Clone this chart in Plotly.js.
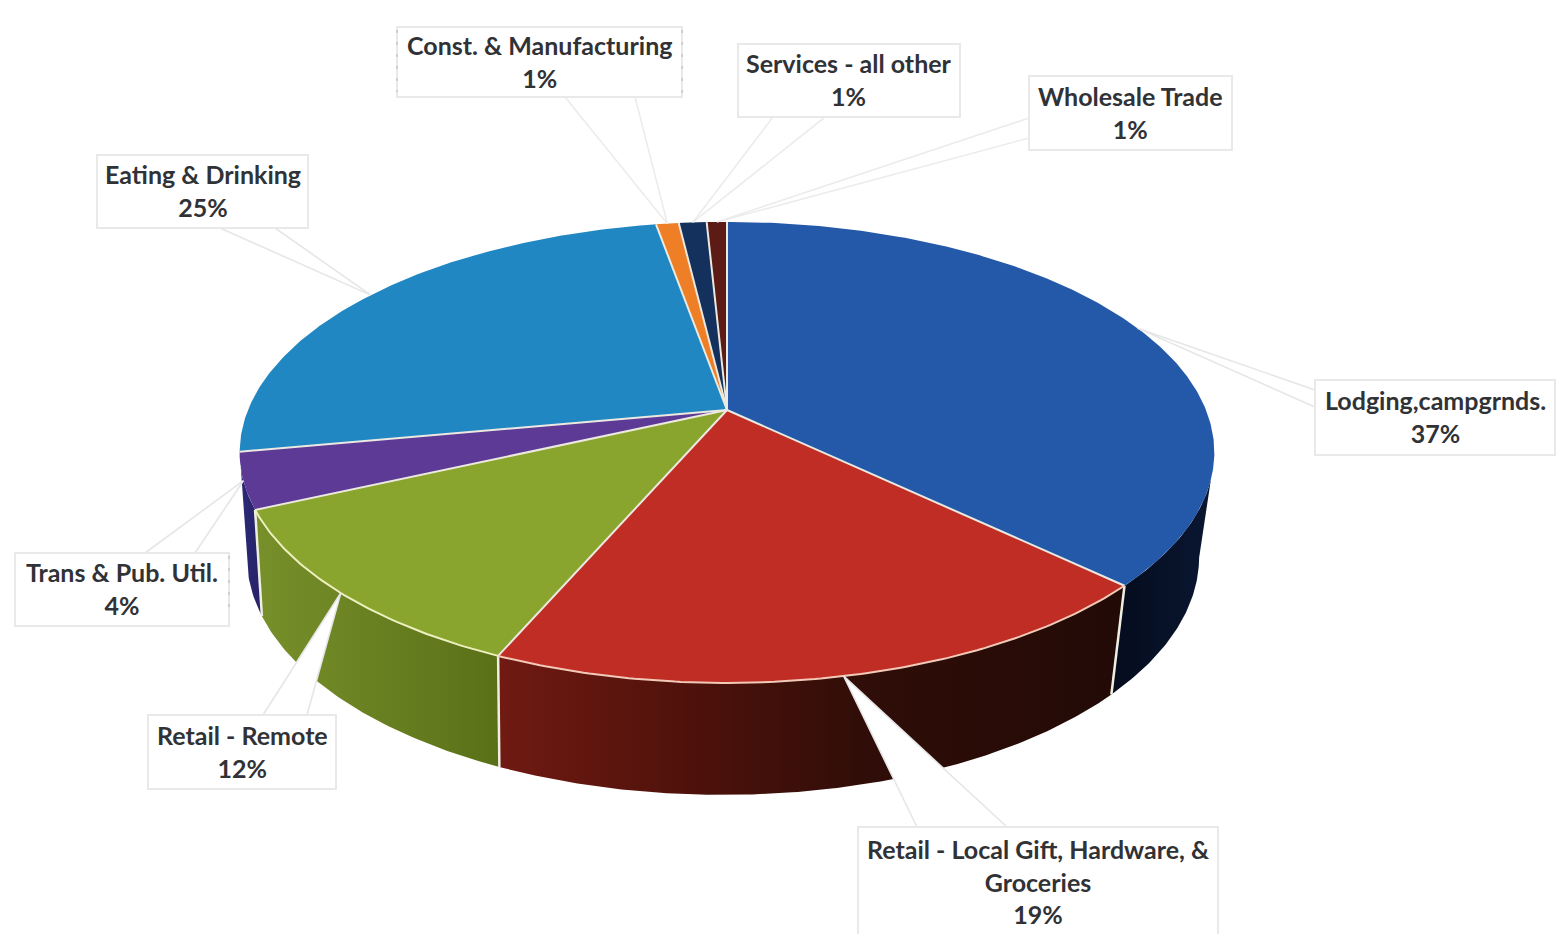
<!DOCTYPE html>
<html>
<head>
<meta charset="utf-8">
<script src="https://cdn.plot.ly/plotly-3.0.1.min.js"></script>
<style>html,body{margin:0;padding:0;background:#fff}#chart{width:1558px;height:934px}</style>
</head>
<body>
<div id="chart"></div>
<script>
// ---- data (percent of total, clockwise from 12 o'clock)
const categories = ["Lodging,campgrnds.", "Retail - Local Gift, Hardware, &<br>Groceries", "Retail - Remote",
  "Trans & Pub. Util.", "Eating & Drinking", "Const. & Manufacturing", "Services - all other", "Wholesale Trade"];
const shares = [37.1, 19.4, 11.7, 3.9, 25.1, 0.9, 1.1, 0.8];
const topColors = ["#2459a9", "#c02d25", "#8aa52e", "#5d3a96", "#2087c3", "#ee7f27", "#14305c", "#5c1b14"];
const wallScales = [
  [[0,"#040b1c"],[1,"#0a1732"]],
  [[0,"#701a12"],[0.3,"#4f120b"],[0.6,"#2f0d08"],[1,"#220a06"]],
  [[0,"#77902a"],[1,"#5a7018"]],
  [[0,"#2c2a78"],[1,"#252266"]],
  null, null, null, null];

// ---- label boxes [x0,y0,x1,y1] and the two foot points of each callout
const boxes = [[1315,380,1555,455],[858,827,1218,940],[148,715,336,789],[15,553,229,626],
  [97,155,308,228],[397,27,682,97],[738,44,960,117],[1029,76,1232,150]];
const feet = [[[1315,390],[1315,407]],[[917,827],[1007,827]],[[263,715],[307,715]],[[145,553],[195,553]],
  [[220,228],[275,228]],[[565,97],[635,97]],[[773,117],[825,117]],[[1029,118],[1029,138]]];
const scanDashes = [[397,30,397,92],[682,30,682,95],[229,556,229,616]];

// ---- projection of the tilted pie
const P = {cx:727, cy:410, bx:479, ay:222.7, k:0.184, cx2:723, bx2:468, cy2:513, ay2:230};
function topRim(t){const u=Math.sin(t),v=-Math.cos(t),d=1-P.k*v;return [P.cx+P.bx*u/d,P.cy+P.ay*v/d];}
function bottomRim(t){const u=Math.sin(t),v=-Math.cos(t),d=1-P.k*v;return [P.cx2+P.bx2*u/d,P.cy2+P.ay2*v/d];}
const toRad = p => p/100*2*Math.PI;
function arc(fn,a,b){const n=Math.max(4,Math.ceil(Math.abs(b-a)/0.01)),o=[];for(let i=0;i<=n;i++)o.push(fn(a+(b-a)*i/n));return o;}

const traces=[], starts=[]; let c=0;
shares.forEach(s=>{starts.push(c);c+=s;});
const poly=(pts,extra)=>Object.assign({type:'scatter',mode:'lines',x:pts.map(p=>p[0]),y:pts.map(p=>p[1]),hoverinfo:'skip',showlegend:false},extra);

// side walls; the lodging wall's hidden back end is cut along the outline of the drum
shares.forEach((s,i)=>{
  if(!wallScales[i])return;
  const a=toRad(starts[i]),b=toRad(starts[i]+s);
  const pts = i===0
    ? arc(topRim,toRad(29.8),b).concat(arc(bottomRim,b,toRad(28)))
    : arc(topRim,a,b).concat(arc(bottomRim,b,a));
  pts.push(pts[0]);
  traces.push(poly(pts,{fill:'toself',line:{width:0,color:wallScales[i][0][1]},fillgradient:{type:'horizontal',colorscale:wallScales[i]}}));
});
// wall edges between slices
[1,2,3].forEach(i=>{const t=toRad(starts[i]);
  traces.push(poly([topRim(t),bottomRim(t)],{line:{color:'#efeee2',width:2.5}}));});
// top faces
shares.forEach((s,i)=>{
  const a=toRad(starts[i]),b=toRad(starts[i]+s);
  const pts=[[P.cx,P.cy]].concat(arc(topRim,a,b));pts.push([P.cx,P.cy]);
  traces.push(poly(pts,{fill:'toself',fillcolor:topColors[i],line:{width:0,color:topColors[i]}}));
});
// separators between slices
starts.forEach((s,i)=>{
  traces.push(poly([[P.cx,P.cy],topRim(toRad(s))],{line:{color:'#ebe9e0',width:2}}));
});
// light rim along the front of the red and green slices
[1,2].forEach(i=>{
  traces.push(poly(arc(topRim,toRad(starts[i]),toRad(starts[i]+shares[i])),{line:{color:i===1?'#f3c9b8':'#eef0c0',width:2}}));
});
// callouts
shares.forEach((s,i)=>{
  const anchor=topRim(toRad(starts[i]+s/2));
  const pts=[feet[i][0],anchor,feet[i][1]];
  traces.push(poly(pts.concat([pts[0]]),{fill:'toself',fillcolor:'#ffffff',line:{width:0,color:'#ffffff'}}));
  traces.push(poly(pts,{line:{color:i>=5?'#ececec':'#e6e6e6',width:1.6}}));
});

const shapes=boxes.map(b=>({type:'rect',xref:'x',yref:'y',x0:b[0],y0:b[1],x1:b[2],y1:b[3],layer:'above',
  line:{color:'#e9e9e9',width:2},fillcolor:'#ffffff'}));
scanDashes.forEach(d=>shapes.push({type:'line',xref:'x',yref:'y',x0:d[0],y0:d[1],x1:d[2],y1:d[3],layer:'above',
  line:{color:'#b5b5b5',width:1,dash:'3px,9px'}}));
const annotations=categories.map((name,i)=>{
  const b=boxes[i];
  const yc = i===1 ? 881 : (b[1]+b[3])/2-1;
  return {xref:'x',yref:'y',x:(b[0]+b[2])/2,y:yc,showarrow:false,align:'center',xanchor:'center',yanchor:'middle',
    text:name+'<br>'+Math.round(shares[i])+'%',font:{family:'Lato, "Open Sans", sans-serif',size:25,color:'#313236',weight:700}};
});

Plotly.newPlot('chart',traces,{
  width:1558,height:934,margin:{l:0,r:0,t:0,b:0,pad:0},paper_bgcolor:'#ffffff',plot_bgcolor:'#ffffff',showlegend:false,
  xaxis:{range:[0,1558],visible:false,fixedrange:true},
  yaxis:{range:[934,0],visible:false,fixedrange:true},
  shapes,annotations
},{displayModeBar:false,staticPlot:true});
</script>
</body>
</html>
